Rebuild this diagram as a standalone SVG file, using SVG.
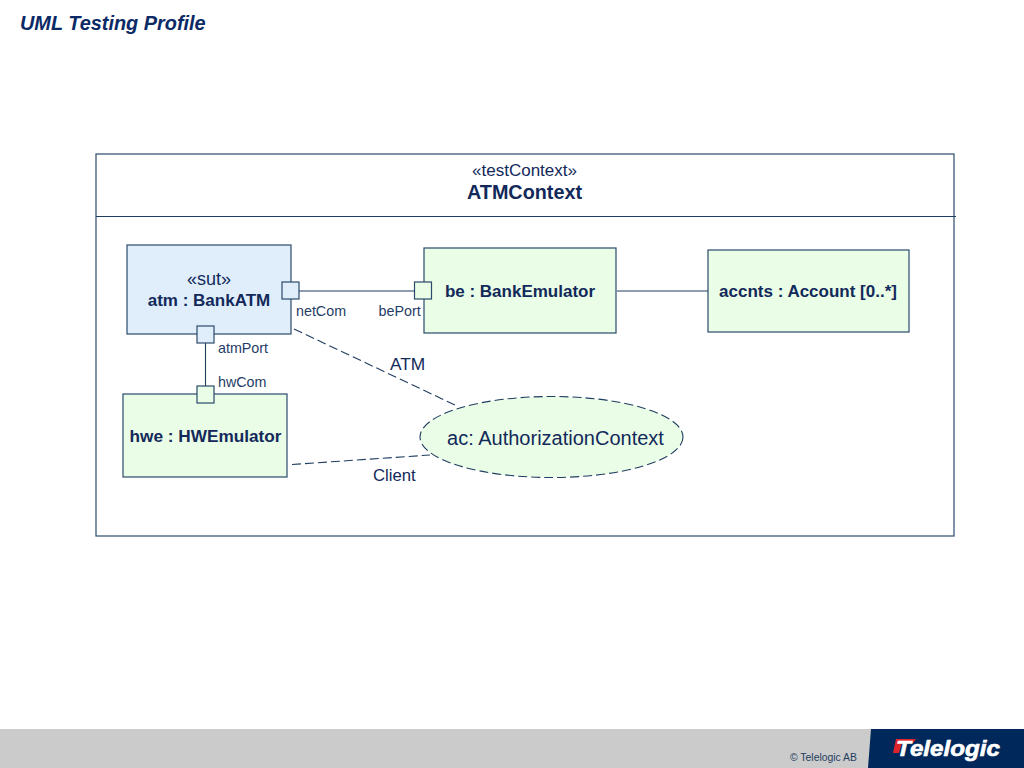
<svg xmlns="http://www.w3.org/2000/svg" width="1024" height="768" viewBox="0 0 1024 768">
<style>
text{font-family:"Liberation Sans",Arial,sans-serif;fill:#12295a}
.b{font-weight:bold}
.box{stroke:#2b4a6b;stroke-width:1.2}
.ln{stroke:#1f3d60;stroke-width:1.1;fill:none}
.g{fill:#eafde6}
.bl{fill:#e0eefc}
.d{stroke-dasharray:9 4}
.p{font-size:14.3px;fill:#1f3d66}
.m{text-anchor:middle}
</style>
<rect width="1024" height="768" fill="#fff"/>
<text x="20" y="30" font-size="19.900" font-weight="bold" font-style="italic" style="fill:#0c2a66">UML Testing Profile</text>
<g id="footer">
<rect x="0" y="729" width="1024" height="39" fill="#cbcbcb"/>
<polygon points="871,729 1024,729 1024,768 868,768" fill="#00285a"/>
<text x="790" y="761" font-size="10.400" style="fill:#1f3d60">© Telelogic AB</text>
<polygon points="896,739 916,739 913,743 902,743 899,753 893,753" fill="#e0242c"/>
<text x="896" y="756" font-size="22" font-weight="bold" font-style="italic" textLength="104" lengthAdjust="spacingAndGlyphs" style="fill:#fff;stroke:#fff;stroke-width:.6">Telelogic</text>
</g>
<g id="ATMContext">
<rect x="96" y="154" width="858" height="382" fill="#fff" class="box"/>
<line x1="96" y1="216.500" x2="956" y2="216.500" class="ln"/>
<text x="524.500" y="176" font-size="17" class="m">«testContext»</text>
<text x="524.500" y="199" font-size="19.800" class="b m">ATMContext</text>
</g>
<g id="connectors">
<line x1="299" y1="291" x2="415" y2="291" class="ln"/>
<line x1="617" y1="291" x2="708" y2="291" class="ln"/>
<line x1="205.500" y1="343" x2="205.500" y2="386" class="ln"/>
<line x1="294" y1="329" x2="455" y2="405" class="ln d"/>
<line x1="292" y1="464.500" x2="430" y2="455" class="ln d"/>
</g>
<g id="atm">
<rect x="127" y="245" width="164" height="89" class="box bl"/>
<text x="209" y="285" font-size="18" class="m">«sut»</text>
<text x="209" y="306" font-size="17" class="b m">atm : BankATM</text>
</g>
<g id="be">
<rect x="424" y="248" width="192" height="85" class="box g"/>
<text x="520" y="297" font-size="17" class="b m">be : BankEmulator</text>
</g>
<g id="accnts">
<rect x="708" y="250" width="201" height="82" class="box g"/>
<text x="808" y="297" font-size="17" class="b m">accnts : Account [0..*]</text>
</g>
<g id="hwe">
<rect x="123" y="394" width="164" height="83" class="box g"/>
<text x="205.500" y="442" font-size="17.200" class="b m">hwe : HWEmulator</text>
</g>
<g id="ac">
<ellipse cx="551.500" cy="437" rx="131.500" ry="40.500" class="ln d" style="fill:#eafde6"/>
<text x="555.500" y="445" font-size="20" class="m">ac: AuthorizationContext</text>
</g>
<g id="netCom"><rect x="282" y="282" width="17" height="17" class="box bl"/><text x="296" y="316" class="p">netCom</text></g>
<g id="bePort"><rect x="414.500" y="282" width="17" height="17" class="box g"/><text x="378.500" y="316" class="p">bePort</text></g>
<g id="atmPort"><rect x="197" y="326" width="17" height="17" class="box bl"/><text x="218" y="353" class="p">atmPort</text></g>
<g id="hwCom"><rect x="197" y="386" width="17" height="17" class="box g"/><text x="218" y="387" class="p">hwCom</text></g>
<text x="390" y="370" font-size="17.300">ATM</text>
<text x="373" y="481" font-size="16.700">Client</text>
</svg>
